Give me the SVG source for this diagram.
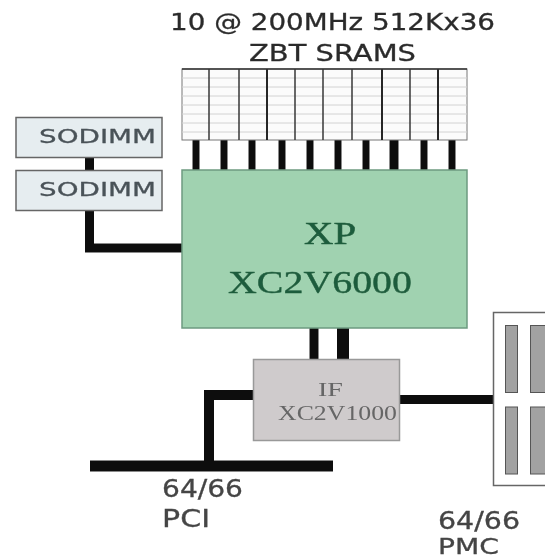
<svg xmlns="http://www.w3.org/2000/svg" width="545" height="560" viewBox="0 0 545 560">
<defs>
<filter id="blur" x="-5%" y="-5%" width="110%" height="110%"><feGaussianBlur stdDeviation="0.6"/></filter>
<filter id="tblur" x="-5%" y="-20%" width="110%" height="140%"><feGaussianBlur stdDeviation="0.5"/></filter>
</defs>
<style>
.t{font-family:"DejaVu Sans",sans-serif;fill:#2c2c2c;stroke:#2c2c2c;stroke-width:.3;filter:url(#tblur)}
.s{font-family:"Liberation Serif","Times New Roman",serif;filter:url(#tblur)}
.w{stroke:#111;fill:none;stroke-width:9}
.grid{stroke:#d2d2d2;stroke-width:1}
.div{stroke:#444;stroke-width:1.6}
.slot{fill:#a2a2a2;stroke:#555;stroke-width:1}
</style>
<rect width="545" height="560" fill="#fff"/>
<g id="connectors" filter="url(#blur)">
<path class="w" style="stroke-width:7" d="M196 140V170M224 140V170M252 140V170M282 140V170M310 140V170M338 140V170M366 140V170M424 140V170M452 140V170"/>
<path class="w" d="M394 140V170"/>
<path class="w" d="M89.500 156V171"/>
<path class="w" d="M89.500 210V248H182"/>
<path class="w" d="M314 328V359"/>
<path class="w" d="M343 328V359" style="stroke-width:12"/>
<path class="w" d="M253 395H209V465" style="stroke-width:10"/>
<path class="w" d="M90 466H333" style="stroke-width:11"/>
<path class="w" d="M400 399.500H493"/>
</g>
<g id="sram" filter="url(#blur)">
<rect x="182" y="69" width="285" height="71" fill="#fbfbfb" stroke="#777" stroke-width="1"/>
<path class="grid" d="M182 78H467M182 87H467M182 96H467M182 105H467M182 114H467M182 123H467M182 132H467"/>
<path class="div" d="M209 69V140M239 69V140M295 69V140M323 69V140M352 69V140M410 69V140"/>
<path d="M267 69V140M382 69V140M438 69V140" stroke="#111" stroke-width="1.800"/>
<path d="M182 69H467" stroke="#333" stroke-width="1.500"/>
</g>
<text class="t" x="170" y="30" font-size="23" textLength="325" lengthAdjust="spacingAndGlyphs">10 @ 200MHz 512Kx36</text>
<text class="t" x="249" y="61" font-size="23" textLength="167" lengthAdjust="spacingAndGlyphs">ZBT SRAMS</text>
<g id="sodimm1">
<rect x="16" y="117.500" width="146" height="40" fill="#e6edf0" stroke="#666" stroke-width="1.500" filter="url(#blur)"/>
<text class="t" x="39" y="143" font-size="20" style="fill:#4a5258;stroke:#4a5258" textLength="117" lengthAdjust="spacingAndGlyphs">SODIMM</text>
</g>
<g id="sodimm2">
<rect x="16" y="170.500" width="146" height="40" fill="#e6edf0" stroke="#666" stroke-width="1.500" filter="url(#blur)"/>
<text class="t" x="39" y="196" font-size="20" style="fill:#4a5258;stroke:#4a5258" textLength="117" lengthAdjust="spacingAndGlyphs">SODIMM</text>
</g>
<g id="xp">
<rect x="182" y="170" width="285" height="158" fill="#a0d2b0" stroke="#6d9a80" stroke-width="1.500" filter="url(#blur)"/>
<text class="s" x="304" y="244" font-size="32" fill="#1f5c3c" stroke="#1f5c3c" stroke-width=".5" textLength="52" lengthAdjust="spacingAndGlyphs">XP</text>
<text class="s" x="228" y="293" font-size="32" fill="#1f5c3c" stroke="#1f5c3c" stroke-width=".4" textLength="184" lengthAdjust="spacingAndGlyphs">XC2V6000</text>
</g>
<g id="if">
<rect x="253.500" y="359.500" width="146" height="81" fill="#cfcbcc" stroke="#999" stroke-width="1.500" filter="url(#blur)"/>
<text class="s" x="318" y="396" font-size="19" fill="#666" textLength="25" lengthAdjust="spacingAndGlyphs">IF</text>
<text class="s" x="278" y="420" font-size="20" fill="#666" textLength="119" lengthAdjust="spacingAndGlyphs">XC2V1000</text>
</g>
<g id="pmc">
<rect x="493.500" y="312.500" width="60" height="173" fill="#fff" stroke="#666" stroke-width="1.500" filter="url(#blur)"/>
<g filter="url(#blur)">
<rect class="slot" x="505.500" y="325.500" width="12" height="67"/>
<rect class="slot" x="530.500" y="325.500" width="16" height="67"/>
<rect class="slot" x="505.500" y="407" width="12" height="67"/>
<rect class="slot" x="530.500" y="407" width="16" height="67"/>
</g>
</g>
<text class="t" x="162" y="497" font-size="24" style="fill:#444;stroke:#444" textLength="81" lengthAdjust="spacingAndGlyphs">64/66</text>
<text class="t" x="162" y="527" font-size="24" style="fill:#444;stroke:#444" textLength="48" lengthAdjust="spacingAndGlyphs">PCI</text>
<text class="t" x="438" y="529" font-size="24" style="fill:#444;stroke:#444" textLength="82" lengthAdjust="spacingAndGlyphs">64/66</text>
<text class="t" x="438" y="554" font-size="22" style="fill:#444;stroke:#444" textLength="61" lengthAdjust="spacingAndGlyphs">PMC</text>
</svg>
